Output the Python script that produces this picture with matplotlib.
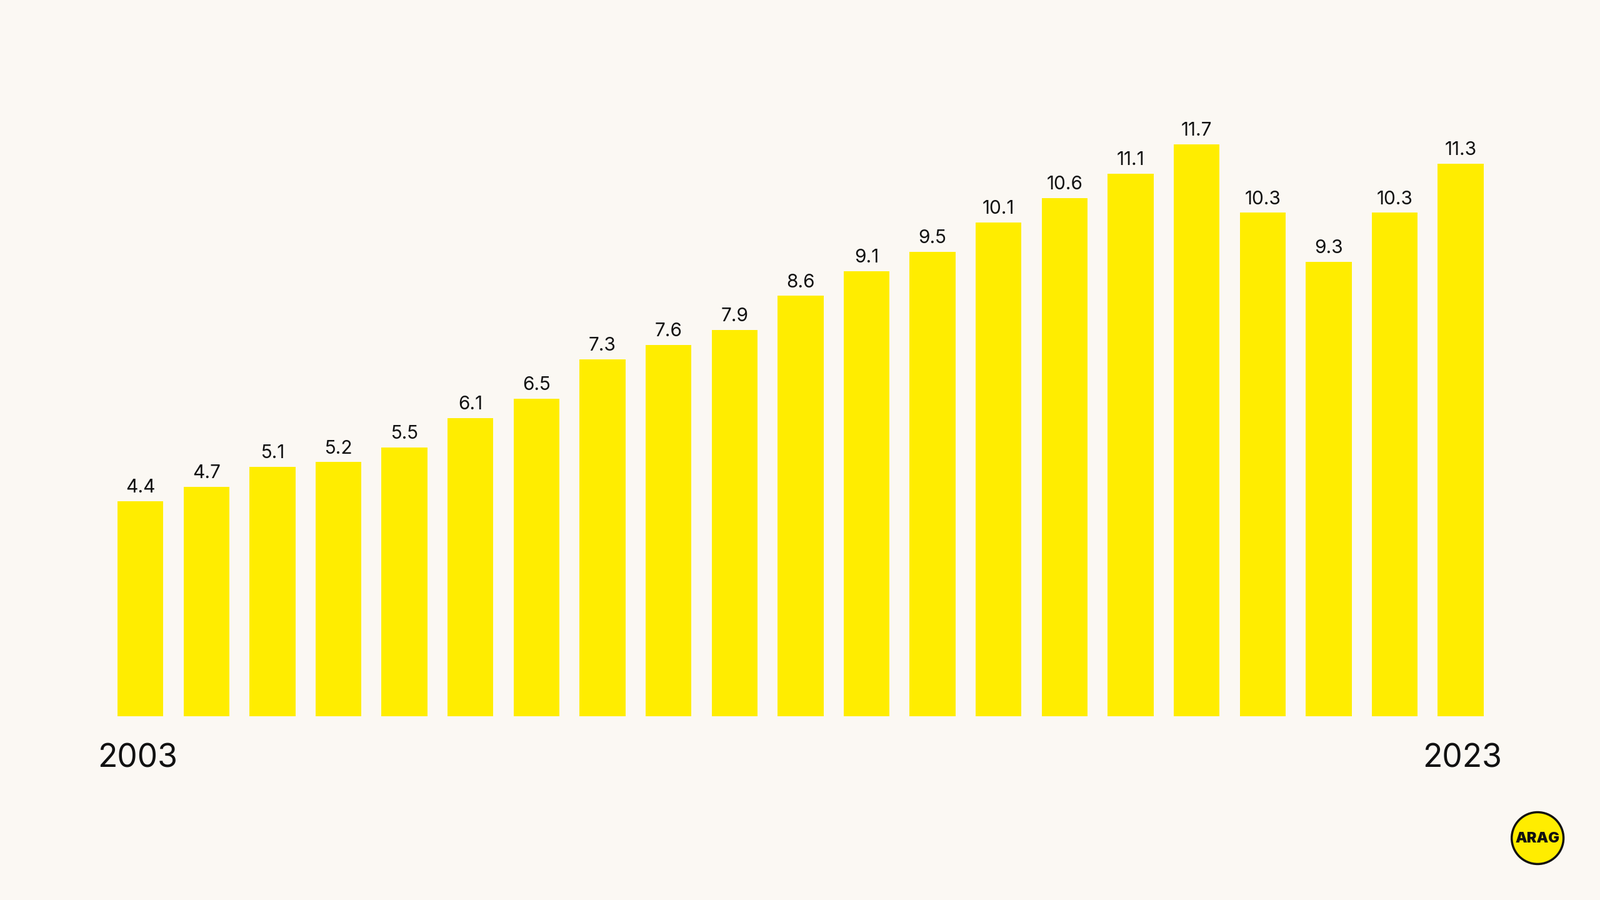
import matplotlib.pyplot as plt
from matplotlib.patches import Circle

years = list(range(2003, 2024))
values = [4.4, 4.7, 5.1, 5.2, 5.5, 6.1, 6.5, 7.3, 7.6, 7.9, 8.6,
          9.1, 9.5, 10.1, 10.6, 11.1, 11.7, 10.3, 9.3, 10.3, 11.3]

BG = "#FBF8F3"
YELLOW = "#FFED00"
FONT = "Inter"

fig = plt.figure(figsize=(25.6, 14.4), dpi=100, facecolor=BG)
ax = fig.add_axes([0.0671, 0.204, 0.8665, 0.652])
ax.set_facecolor(BG)
x = range(len(years))
ax.bar(x, values, width=0.695, color=YELLOW)
for i, v in zip(x, values):
    ax.text(i, v + 0.1, f"{v:.1f}", ha="center", va="bottom",
            fontsize=21.5, family=FONT, color="#111111")
ax.set_xlim(-0.5, len(years) - 0.5)
ax.set_ylim(0, 12)
ax.axis("off")

fig.text(0.086, 0.157, str(years[0]), ha="center", va="center",
         fontsize=37, family=FONT, color="#111111")
fig.text(0.914, 0.157, str(years[-1]), ha="center", va="center",
         fontsize=37, family=FONT, color="#111111")

# logo
lax = fig.add_axes([0.944, 0.0385, 0.034, 0.0605])
lax.set_aspect("equal")
lax.set_xlim(-1.05, 1.05)
lax.set_ylim(-1.05, 1.05)
lax.axis("off")
lax.add_patch(Circle((0, 0), 1, facecolor=YELLOW, edgecolor="#111111", linewidth=2.5))
lax.text(0, -0.02, "ARAG", ha="center", va="center", fontsize=17,
         fontweight="black", family=FONT, color="#111111")

fig.savefig("out.png", facecolor=BG)
